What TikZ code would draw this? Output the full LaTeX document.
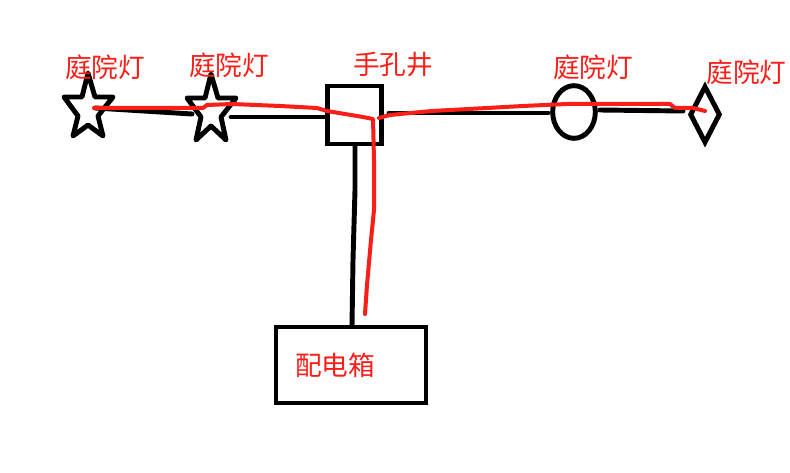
\documentclass[tikz,border=0pt]{standalone}
\usepackage{fontspec}
\setmainfont{Noto Sans CJK SC}
\usetikzlibrary{shapes.geometric}
\definecolor{inkred}{RGB}{250,30,25}
\tikzset{
  x=0.75pt,y=-0.75pt,
  wire/.style={line width=3.7pt,black,line cap=round,line join=round},
  redwire/.style={line width=3pt,inkred,line cap=round,line join=round},
  label/.style={text=inkred,font=\fontsize{20pt}{20pt}\selectfont,inner sep=0pt},
  lampstar/.style={wire,miter limit=4},
  shapenode/.style={draw=black,line width=3.7pt,inner sep=0pt},
}
\newcommand{\lampoutline}[2]{%
  \draw[lampstar,shift={(#1)}] (0,-32) -- (-6,-8) -- (-24,-8) -- (-10,11) -- (-15,#2) -- (0,20) -- (15,#2) -- (10,11) -- (25,-8) -- (7,-8) -- cycle;}
\begin{document}
\begin{tikzpicture}
\useasboundingbox[fill=white] (0,0) rectangle (790,473);
% lamps
\node[inner sep=0pt,minimum size=1pt] (star1) at (88,105) {};
\node[inner sep=0pt,minimum size=1pt] (star2) at (211,106) {};
\lampoutline{star1}{31}
\lampoutline{star2}{34}
\node[shapenode,ellipse,minimum width=32pt,minimum height=39.5pt] (circ) at (574,112) {};
\node[shapenode,diamond,minimum width=23pt,minimum height=43pt] (diam) at (705,114.5) {};
% boxes
\node[shapenode,minimum width=40pt,minimum height=43.5pt] (hole) at (354.5,115) {};
\node[shapenode,minimum width=112.5pt,minimum height=57pt] (panel) at (351,365) {};
% labels
\node[label] (l1) at (105,67) {庭院灯};
\node[label] (l2) at (229,65) {庭院灯};
\node[label] (l3) at (393,65) {手孔井};
\node[label] (l4) at (593,67) {庭院灯};
\node[label] (l5) at (746.5,72) {庭院灯};
\node[label] (l6) at (335,365) {配电箱};
% free ends
\coordinate (a1) at (95,108);
\coordinate (a2) at (192,114);
\coordinate (b1) at (231,117);
\coordinate (c1) at (389,113);
\coordinate (c2) at (548,113);
\coordinate (d1) at (600,110);
\coordinate (d2) at (683,111);
\coordinate (e1) at (355,146);
\coordinate (e2) at (352,326);
\coordinate (b2) at (hole.west |- b1);
% black wires
\draw[wire] (a1) -- (a2);
\draw[wire] (b1) -- (b2);
\draw[wire] (c1) -- (c2);
\draw[wire] (d1) -- (d2);
\draw[wire] (e1) -- (355,190) -- (353,260) -- (e2);
% red wires
\coordinate (r0) at (94,108);
\coordinate (rj) at (373,119);
\coordinate (rp) at (365,314);
\coordinate (rj2) at (379,118);
\coordinate (rd) at (705,111);
\draw[redwire] (r0) -- (203,108) -- (207,105) -- (232,104) -- (280,106) -- (317,108) -- (327,111) -- (363,117) -- (rj) -- (374,160) -- (374,210) -- (371,240) -- (367,285) -- (rp);
\draw[redwire] (rj2) -- (390,115) -- (400,114) -- (432,111) -- (487,108) -- (523,106) -- (567,104) -- (670,104) -- (675,108) -- (693,108) -- (rd);
\end{tikzpicture}
\end{document}
